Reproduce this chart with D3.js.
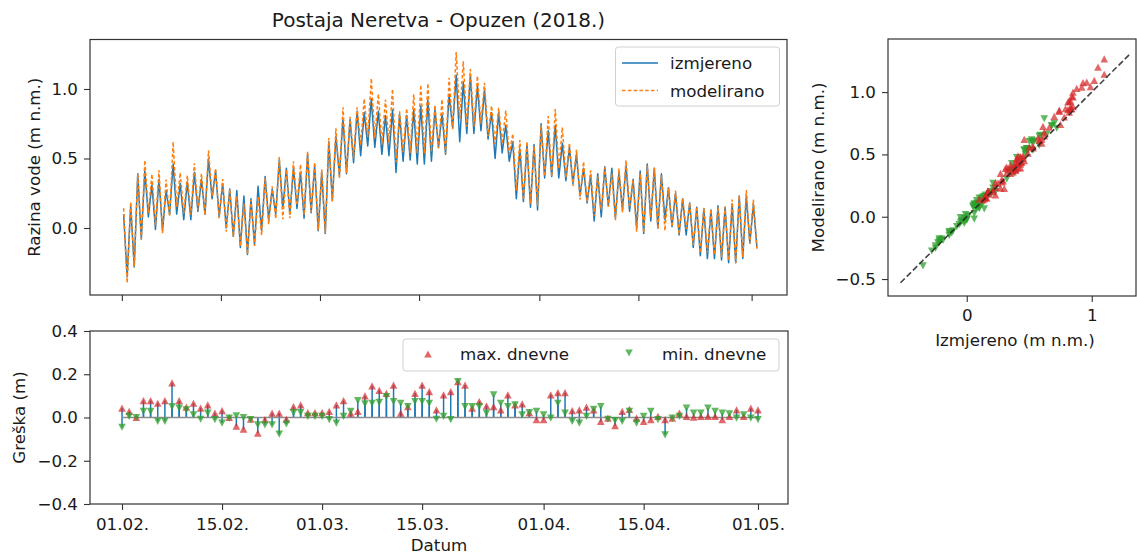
<!DOCTYPE html>
<html>
<head>
<meta charset="utf-8">
<script src="https://cdn.jsdelivr.net/npm/d3@7"></script>
<style>
  body { margin: 0; background: #fff; }
  svg { display: block; }
  text { font-family: "DejaVu Sans", sans-serif; fill: #1a1a1a; }
</style>
</head>
<body>
<svg id="fig" width="1137" height="555"></svg>
<script>
// ---- data: Neretva at Opuzen, 1 Feb - 1 May 2018 ----
const startDate = "2018-02-01";
const tickDates = ["2018-02-01", "2018-02-15", "2018-03-01", "2018-03-15", "2018-04-01", "2018-04-15", "2018-05-01"];

// measured daily high / low water level (m a.s.l.)
const measHigh = [
  0.10, 0.16, 0.39, 0.41, 0.31, 0.35, 0.27, 0.46, 0.32, 0.33,
  0.40, 0.35, 0.50, 0.41, 0.32, 0.28, 0.27, 0.23, 0.21, 0.30,
  0.37, 0.28, 0.49, 0.43, 0.43, 0.40, 0.53, 0.45, 0.40, 0.62,
  0.66, 0.79, 0.78, 0.84, 0.83, 0.93, 0.84, 0.81, 0.85, 0.82,
  0.81, 0.85, 0.88, 0.92, 0.85, 0.82, 0.96, 1.10, 1.05, 1.10,
  1.02, 0.99, 0.83, 0.83, 0.74, 0.62, 0.57, 0.60, 0.60, 0.75,
  0.70, 0.74, 0.61, 0.58, 0.53, 0.43, 0.38, 0.39, 0.44, 0.43,
  0.40, 0.45, 0.35, 0.41, 0.46, 0.43, 0.39, 0.29, 0.25, 0.21,
  0.18, 0.15, 0.14, 0.13, 0.16, 0.15, 0.17, 0.23, 0.23, 0.17
];
const measLow = [
  -0.35, -0.28, -0.08, 0.08, -0.01, -0.02, 0.10, 0.10, 0.06, 0.06,
  0.12, 0.10, 0.21, 0.08, 0.00, -0.06, -0.14, -0.19, -0.12, -0.02,
  0.06, 0.10, 0.14, 0.10, 0.14, 0.07, 0.11, -0.02, -0.04, 0.20,
  0.38, 0.39, 0.47, 0.52, 0.59, 0.58, 0.53, 0.52, 0.40, 0.48,
  0.49, 0.46, 0.46, 0.48, 0.58, 0.53, 0.72, 0.62, 0.68, 0.68,
  0.70, 0.64, 0.50, 0.54, 0.48, 0.21, 0.19, 0.15, 0.13, 0.36,
  0.37, 0.36, 0.34, 0.32, 0.23, 0.18, 0.05, 0.08, 0.16, 0.07,
  0.13, 0.12, 0.00, -0.04, 0.05, 0.00, 0.06, 0.01, -0.05, -0.05,
  -0.14, -0.20, -0.22, -0.22, -0.23, -0.25, -0.25, -0.22, -0.11, -0.14
];
// model error (modelled - measured) of the daily maximum and minimum (m)
const errMax = [
  0.043, 0.028, 0.000, 0.078, 0.078, 0.066, 0.078, 0.160, 0.078, 0.048,
  0.066, 0.043, 0.058, 0.020, 0.032, 0.000, -0.040, -0.054, -0.008, -0.072,
  -0.010, 0.020, 0.020, -0.008, 0.050, 0.058, 0.023, 0.023, 0.023, 0.028,
  0.058, 0.078, 0.020, 0.028, 0.100, 0.146, 0.125, 0.112, 0.150, 0.020,
  0.050, 0.112, 0.150, 0.120, 0.035, 0.105, 0.120, 0.166, 0.150, 0.043,
  0.074, 0.054, 0.050, 0.035, 0.105, 0.058, 0.063, 0.023, -0.010, -0.010,
  0.105, 0.115, 0.115, 0.032, 0.035, 0.048, 0.035, -0.018, -0.003, -0.038,
  0.028, 0.038, -0.003, -0.018, -0.010, 0.005, -0.010, -0.003, 0.020, 0.005,
  0.002, 0.005, 0.005, 0.005, -0.010, 0.005, 0.035, 0.005, 0.043, 0.035
];
const errMin = [
  -0.045, 0.005, 0.000, 0.028, 0.028, -0.018, -0.018, 0.050, 0.043, 0.035,
  0.012, -0.008, 0.020, -0.010, -0.026, -0.003, 0.008, 0.000, -0.010, -0.034,
  -0.034, -0.034, -0.077, -0.030, 0.023, 0.023, 0.005, 0.005, 0.005, -0.010,
  -0.026, 0.005, 0.028, 0.078, 0.063, 0.066, 0.070, 0.097, 0.074, 0.066,
  0.050, 0.074, 0.074, 0.066, -0.008, 0.005, -0.010, 0.166, 0.050, 0.050,
  0.050, 0.020, 0.105, 0.066, 0.050, 0.058, 0.012, 0.023, 0.028, 0.012,
  -0.003, 0.066, 0.020, -0.018, -0.026, 0.005, 0.038, 0.050, -0.008, -0.014,
  -0.018, 0.028, -0.026, 0.005, 0.028, -0.010, -0.080, -0.003, 0.005, 0.043,
  0.020, 0.020, 0.043, 0.028, 0.020, 0.017, -0.003, 0.012, -0.003, -0.010
];

const levelTicks = [0.0, 0.5, 1.0];
const errorTicks = [-0.4, -0.2, 0.0, 0.2, 0.4];
const scatterXTicks = [0, 1];
const scatterYTicks = [-0.5, 0.0, 0.5, 1.0];
const identityExtent = [-0.53, 1.31];
const seriesNames = ["izmjereno", "modelirano"];
const errorNames = ["max. dnevne", "min. dnevne"];

// ---- helpers ----
const DAY = 864e5;
const t0 = Date.parse(startDate + "T00:00:00Z");
const at = d => new Date(t0 + d * DAY);
const fmtDate = d3.utcFormat("%d.%m.");
const fmtNum = d => d3.format(".1f")(d).replace("-", "\u2212");
const fmtInt = d => d3.format("d")(d).replace("-", "\u2212");

const C_BLUE = "#1f77b4", C_ORANGE = "#ff7f0e", C_RED = "#d62728", C_GREEN = "#2ca02c";
const FS = 16.7;
const AX = "#333";

const svg = d3.select("#fig");

function tri(up, w = 7.6, h = 7.2) {
  return up
    ? `M0,${-h / 2}L${w / 2},${h / 2}L${-w / 2},${h / 2}Z`
    : `M0,${h / 2}L${w / 2},${-h / 2}L${-w / 2},${-h / 2}Z`;
}

function styleAxis(g) {
  g.select(".domain").remove();
  g.selectAll(".tick line").attr("stroke", AX).attr("stroke-width", 1.1);
  g.selectAll(".tick text").attr("font-size", FS).attr("fill", "#1a1a1a")
    .attr("font-family", "DejaVu Sans, sans-serif");
}

function frame(x0, y0, x1, y1) {
  svg.append("rect").attr("x", x0).attr("y", y0)
    .attr("width", x1 - x0).attr("height", y1 - y0)
    .attr("fill", "none").attr("stroke", AX).attr("stroke-width", 1.2);
}

// ---- series built from the daily extremes ----
const measured = [], modeled = [];
measHigh.forEach((h, i) => {
  measured.push({ t: at(i + 0.25), v: h }, { t: at(i + 0.75), v: measLow[i] });
  modeled.push({ t: at(i + 0.25), v: h + errMax[i] }, { t: at(i + 0.75), v: measLow[i] + errMin[i] });
});

// ================= top panel: water level =================
const T = { l: 90, r: 787, t: 39.5, b: 295 };
const xTop = d3.scaleUtc().domain([at(-4.5), at(94.0)]).range([T.l, T.r]);
const yTop = d3.scaleLinear().domain([-0.482, 1.356]).range([T.b, T.t]);
const tickDateObjs = tickDates.map(s => new Date(s + "T00:00:00Z"));

svg.append("clipPath").attr("id", "clipTop")
  .append("rect").attr("x", T.l).attr("y", T.t).attr("width", T.r - T.l).attr("height", T.b - T.t);

const lineTop = d3.line().x(d => xTop(d.t)).y(d => yTop(d.v));
const gTop = svg.append("g").attr("clip-path", "url(#clipTop)");
gTop.append("path").datum(measured).attr("d", lineTop)
  .attr("fill", "none").attr("stroke", C_BLUE).attr("stroke-width", 1.5).attr("stroke-linejoin", "round");
gTop.append("path").datum(modeled).attr("d", lineTop)
  .attr("fill", "none").attr("stroke", C_ORANGE).attr("stroke-width", 1.5)
  .attr("stroke-dasharray", "3.5,2.3");

svg.append("g").attr("transform", `translate(${T.l},0)`)
  .call(d3.axisLeft(yTop).tickValues(levelTicks).tickFormat(fmtNum).tickSize(6).tickPadding(6))
  .call(styleAxis);
svg.append("g").attr("transform", `translate(0,${T.b})`)
  .call(d3.axisBottom(xTop).tickValues(tickDateObjs).tickFormat("").tickSize(6))
  .call(styleAxis);
frame(T.l, T.t, T.r, T.b);

svg.append("text").attr("x", (T.l + T.r) / 2).attr("y", 27).attr("text-anchor", "middle")
  .attr("font-size", 20).text("Postaja Neretva - Opuzen (2018.)");
svg.append("text").attr("transform", `translate(34,${(T.t + T.b) / 2}) rotate(-90)`)
  .attr("text-anchor", "middle").attr("dy", "0.35em").attr("font-size", FS)
  .text("Razina vode (m n.m.)");

// legend
const lg = svg.append("g");
lg.append("rect").attr("x", 615.5).attr("y", 47).attr("width", 164).attr("height", 59)
  .attr("rx", 3).attr("fill", "#fff").attr("fill-opacity", 0.8).attr("stroke", "#d0d0d0");
lg.append("line").attr("x1", 622).attr("x2", 658).attr("y1", 63).attr("y2", 63)
  .attr("stroke", C_BLUE).attr("stroke-width", 1.5);
lg.append("line").attr("x1", 622).attr("x2", 658).attr("y1", 90.5).attr("y2", 90.5)
  .attr("stroke", C_ORANGE).attr("stroke-width", 1.5).attr("stroke-dasharray", "3.5,2.3");
lg.append("text").attr("x", 670).attr("y", 69).attr("font-size", FS).text(seriesNames[0]);
lg.append("text").attr("x", 670).attr("y", 96.5).attr("font-size", FS).text(seriesNames[1]);

// ================= bottom panel: daily error =================
const B = { l: 90, r: 788, t: 331, b: 504 };
const xBot = d3.scaleUtc().domain([at(-4.48), at(93.2)]).range([B.l, B.r]);
const yBot = d3.scaleLinear().domain([-0.4, 0.4]).range([B.b, B.t]);

const gBot = svg.append("g");
const days = errMax.map((_, i) => i);
gBot.selectAll("line.smax").data(days).join("line").attr("class", "smax")
  .attr("x1", i => xBot(at(i))).attr("x2", i => xBot(at(i)))
  .attr("y1", yBot(0)).attr("y2", i => yBot(errMax[i]))
  .attr("stroke", C_BLUE).attr("stroke-width", 1.5);
gBot.selectAll("line.smin").data(days).join("line").attr("class", "smin")
  .attr("x1", i => xBot(at(i))).attr("x2", i => xBot(at(i)))
  .attr("y1", yBot(0)).attr("y2", i => yBot(errMin[i]))
  .attr("stroke", C_BLUE).attr("stroke-width", 1.5);
gBot.append("line").attr("x1", xBot(at(0))).attr("x2", xBot(at(days.length - 1)))
  .attr("y1", yBot(0)).attr("y2", yBot(0)).attr("stroke", "#8c8c8c").attr("stroke-width", 1.6);
gBot.selectAll("path.mmax").data(days).join("path").attr("class", "mmax")
  .attr("d", tri(true)).attr("transform", i => `translate(${xBot(at(i))},${yBot(errMax[i])})`)
  .attr("fill", C_RED).attr("fill-opacity", 0.7);
gBot.selectAll("path.mmin").data(days).join("path").attr("class", "mmin")
  .attr("d", tri(false)).attr("transform", i => `translate(${xBot(at(i))},${yBot(errMin[i])})`)
  .attr("fill", C_GREEN).attr("fill-opacity", 0.75);

svg.append("g").attr("transform", `translate(${B.l},0)`)
  .call(d3.axisLeft(yBot).tickValues(errorTicks).tickFormat(fmtNum).tickSize(6).tickPadding(6))
  .call(styleAxis);
svg.append("g").attr("transform", `translate(0,${B.b})`)
  .call(d3.axisBottom(xBot).tickValues(tickDateObjs).tickFormat(fmtDate).tickSize(6).tickPadding(8))
  .call(styleAxis);
frame(B.l, B.t, B.r, B.b);

svg.append("text").attr("transform", `translate(19,${(B.t + B.b) / 2}) rotate(-90)`)
  .attr("text-anchor", "middle").attr("dy", "0.35em").attr("font-size", FS).text("Greška (m)");
svg.append("text").attr("x", (B.l + B.r) / 2).attr("y", 550.5).attr("text-anchor", "middle")
  .attr("font-size", FS).text("Datum");

const lg2 = svg.append("g");
lg2.append("rect").attr("x", 403).attr("y", 339).attr("width", 376).attr("height", 32)
  .attr("rx", 3).attr("fill", "#fff").attr("fill-opacity", 0.8).attr("stroke", "#d0d0d0");
lg2.append("path").attr("d", tri(true)).attr("transform", "translate(428,354)")
  .attr("fill", C_RED).attr("fill-opacity", 0.7);
lg2.append("path").attr("d", tri(false)).attr("transform", "translate(629,353)")
  .attr("fill", C_GREEN).attr("fill-opacity", 0.75);
lg2.append("text").attr("x", 460).attr("y", 360).attr("font-size", FS).text(errorNames[0]);
lg2.append("text").attr("x", 662).attr("y", 360).attr("font-size", FS).text(errorNames[1]);

// ================= right panel: modelled vs measured =================
const S = { l: 888, r: 1136, t: 39, b: 296 };
const xS = d3.scaleLinear().domain([-0.63, 1.354]).range([S.l, S.r]);
const yS = d3.scaleLinear().domain([-0.636, 1.426]).range([S.b, S.t]);

const gS = svg.append("g");
gS.selectAll("path.pmin").data(days).join("path").attr("class", "pmin")
  .attr("d", tri(false))
  .attr("transform", i => `translate(${xS(measLow[i])},${yS(measLow[i] + errMin[i])})`)
  .attr("fill", C_GREEN).attr("fill-opacity", 0.75);
gS.selectAll("path.pmax").data(days).join("path").attr("class", "pmax")
  .attr("d", tri(true))
  .attr("transform", i => `translate(${xS(measHigh[i])},${yS(measHigh[i] + errMax[i])})`)
  .attr("fill", C_RED).attr("fill-opacity", 0.7);
gS.append("line")
  .attr("x1", xS(identityExtent[0])).attr("y1", yS(identityExtent[0]))
  .attr("x2", xS(identityExtent[1])).attr("y2", yS(identityExtent[1]))
  .attr("stroke", "#222").attr("stroke-opacity", 0.85).attr("stroke-width", 1.6)
  .attr("stroke-dasharray", "6,2.8");

svg.append("g").attr("transform", `translate(${S.l},0)`)
  .call(d3.axisLeft(yS).tickValues(scatterYTicks).tickFormat(fmtNum).tickSize(6).tickPadding(6))
  .call(styleAxis);
svg.append("g").attr("transform", `translate(0,${S.b})`)
  .call(d3.axisBottom(xS).tickValues(scatterXTicks).tickFormat(fmtInt).tickSize(6).tickPadding(7))
  .call(styleAxis);
frame(S.l, S.t, S.r, S.b);

svg.append("text").attr("transform", `translate(818,${(S.t + S.b) / 2}) rotate(-90)`)
  .attr("text-anchor", "middle").attr("dy", "0.35em").attr("font-size", FS).text("Modelirano (m n.m.)");
svg.append("text").attr("x", 1015).attr("y", 346).attr("text-anchor", "middle")
  .attr("font-size", FS).text("Izmjereno (m n.m.)");
</script>
</body>
</html>
